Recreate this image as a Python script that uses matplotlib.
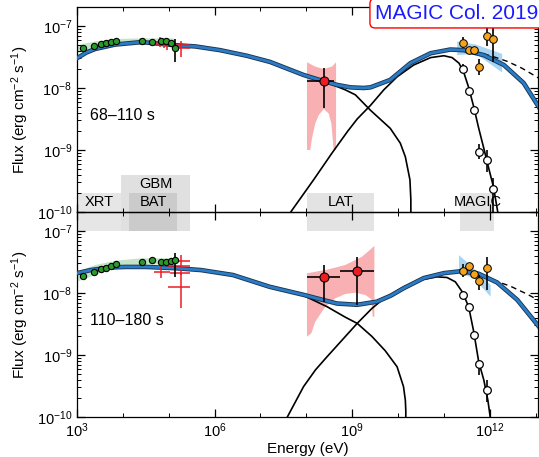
import numpy as np
import matplotlib
matplotlib.use("Agg")
import matplotlib.pyplot as plt
import matplotlib.patheffects as pe
from matplotlib.patches import Rectangle
from matplotlib.transforms import blended_transform_factory
from matplotlib.ticker import LogLocator, NullFormatter

plt.rcParams['font.family'] = ['Liberation Sans', 'DejaVu Sans']
plt.rcParams['mathtext.fontset'] = 'custom'
plt.rcParams['mathtext.rm'] = 'Liberation Sans'
plt.rcParams['mathtext.it'] = 'Liberation Sans:italic'
plt.rcParams['mathtext.bf'] = 'Liberation Sans:bold'

# all values are log10(E / eV) and log10(flux / erg cm-2 s-1)

# ---------------- 68-110 s ----------------
top_tot_logE = [3.0, 3.2, 3.4, 3.83, 4.41, 5.14, 5.58, 6.12, 6.7, 7.21, 7.94, 8.38, 8.67,
                8.96, 9.25, 9.40, 9.83, 10.27, 10.71, 11.14, 11.43, 11.87, 12.31, 12.74, 13.09]
top_tot_logF = [-7.52, -7.43, -7.37, -7.30, -7.26, -7.31, -7.33, -7.39, -7.48, -7.58, -7.79, -7.89, -7.95,
                -7.99, -8.00, -7.99, -7.87, -7.60, -7.44, -7.38, -7.39, -7.47, -7.63, -7.92, -8.33]
top_syn_logE = [3.0, 3.2, 3.4, 3.83, 4.41, 5.14, 5.58, 6.12, 6.7, 7.21, 7.94, 8.38, 8.85,
                9.07, 9.4, 9.83, 10.05, 10.16, 10.26, 10.28, 10.28]
top_syn_logF = [-7.52, -7.43, -7.37, -7.30, -7.26, -7.31, -7.33, -7.39, -7.48, -7.58, -7.79, -7.89, -8.03,
                -8.11, -8.36, -8.65, -8.89, -9.11, -9.48, -9.8, -10.5]
top_ssc_logE = [7.6, 7.67, 8.16, 8.56, 8.9, 9.11, 9.40, 9.69, 9.98, 10.34, 10.71, 11.0, 11.18, 11.33,
                11.43, 11.54, 11.65, 11.76, 11.87, 11.98, 12.08, 12.18]
top_ssc_logF = [-10.1, -9.99, -9.48, -9.05, -8.70, -8.50, -8.28, -8.03, -7.82, -7.63, -7.51, -7.48, -7.51, -7.60,
                -7.74, -7.99, -8.30, -8.65, -8.97, -9.30, -9.59, -10.02]
top_dash_logE = [11.87, 12.1, 12.38, 12.7, 13.09]
top_dash_logF = [-7.45, -7.50, -7.57, -7.68, -7.85]

top_xrt_logE = [3.12, 3.37, 3.52, 3.63, 3.74, 3.84, 4.41, 4.64, 4.83, 4.94, 5.05, 5.14]
top_xrt_logF = [-7.36, -7.32, -7.29, -7.27, -7.26, -7.25, -7.25, -7.26, -7.25, -7.25, -7.28, -7.36]
top_xrt_dlogF_lo = [0.02, 0.02, 0.02, 0.02, 0.02, 0.02, 0.02, 0.02, 0.02, 0.02, 0.03, 0.22]
top_xrt_dlogF_hi = [0.02, 0.02, 0.02, 0.02, 0.02, 0.02, 0.02, 0.02, 0.02, 0.02, 0.03, 0.15]
top_band_logE = [3.0, 3.39, 3.83, 4.41, 5.07, 5.14, 5.14, 5.07, 4.41, 3.83, 3.39, 3.0]
top_band_logF = [-7.31, -7.25, -7.21, -7.20, -7.20, -7.21, -7.33, -7.31, -7.30, -7.30, -7.36, -7.44]

top_bat_logE = [4.81, 4.96, 4.90, 5.27, 5.27]
top_bat_logE_lo = [4.67, 4.85, 4.73, 5.14, 5.14]
top_bat_logE_hi = [4.95, 5.08, 5.05, 5.47, 5.47]
top_bat_logF = [-7.26, -7.28, -7.31, -7.31, -7.36]
top_bat_logF_lo = [-7.34, -7.38, -7.35, -7.35, -7.50]
top_bat_logF_hi = [-7.18, -7.20, -7.27, -7.27, -7.25]

top_lat_logE = [8.378]
top_lat_logE_lo = [8.015]
top_lat_logE_hi = [8.597]
top_lat_logF = [-7.887]
top_lat_logF_lo = [-8.33]
top_lat_logF_hi = [-7.68]
top_lat_bow_logE = [8.015, 8.197, 8.378, 8.561, 8.649, 8.649, 8.597, 8.575, 8.546, 8.487, 8.378,
                    8.27, 8.197, 8.124, 8.087, 8.015]
top_lat_bow_logF = [-7.585, -7.656, -7.694, -7.656, -7.585, -9.0, -9.0, -8.81, -8.57, -8.41, -8.34,
                    -8.44, -8.57, -8.81, -9.0, -9.0]

top_magic_logE = [11.42, 11.54, 11.65, 11.77, 11.95, 12.08]
top_obs_logF = [-7.69, -8.05, -8.35, -9.03, -9.16, -9.63]
top_obs_logF_lo = [-7.76, -8.10, -8.40, -9.15, -9.35, -10.3]
top_obs_logF_hi = [-7.62, -8.00, -8.30, -8.90, -9.00, -9.45]
top_int_logF = [-7.27, -7.39, -7.38, -7.66, -7.16, -7.21]
top_int_logF_lo = [-7.36, -7.43, -7.42, -7.79, -7.33, -7.58]
top_int_logF_hi = [-7.17, -7.35, -7.34, -7.54, -6.98, -7.01]
top_magic_bow_logE = [11.29, 11.7, 12.27, 12.27, 11.7, 11.29]
top_magic_bow_logF = [-7.25, -7.30, -7.45, -7.75, -7.45, -7.47]

# ---------------- 110-180 s ----------------
bot_tot_logE = [3.0, 3.3, 3.7, 4.05, 4.5, 5.14, 5.7, 6.4, 7.2, 7.94, 8.3, 8.67, 9.11, 9.54, 9.85,
                10.13, 10.56, 11.0, 11.36, 11.76, 12.16, 12.6, 13.07]
bot_tot_logF = [-7.68, -7.63, -7.59, -7.58, -7.58, -7.60, -7.63, -7.71, -7.90, -8.03, -8.10, -8.17, -8.19,
                -8.14, -8.04, -7.92, -7.76, -7.68, -7.65, -7.69, -7.83, -8.11, -8.54]
bot_syn_logE = [3.0, 3.3, 3.7, 4.05, 4.5, 5.14, 5.7, 6.4, 7.2, 7.94, 8.45, 8.85, 9.11, 9.43, 9.72,
                9.98, 10.12, 10.16, 10.17, 10.17]
bot_syn_logF = [-7.68, -7.63, -7.59, -7.58, -7.58, -7.60, -7.63, -7.71, -7.90, -8.04, -8.22, -8.39, -8.49,
                -8.70, -8.93, -9.19, -9.51, -9.73, -9.9, -10.5]
bot_ssc_logE = [7.55, 7.94, 8.2, 8.45, 8.78, 9.11, 9.43, 9.69, 10.13, 10.49, 10.85, 11.07, 11.25,
                11.40, 11.54, 11.65, 11.76, 11.87, 11.96, 12.02]
bot_ssc_logF = [-10.05, -9.51, -9.24, -9.03, -8.76, -8.49, -8.25, -8.09, -7.90, -7.79, -7.74, -7.75, -7.82,
                -7.98, -8.22, -8.62, -9.11, -9.40, -9.73, -10.05]
bot_dash_logE = [11.87, 12.45, 12.82, 13.07]
bot_dash_logF = [-7.74, -7.89, -8.02, -8.12]

bot_xrt_logE = [3.14, 3.37, 3.52, 3.63, 3.74, 3.84, 4.41, 4.64, 4.83, 4.95, 5.05, 5.14]
bot_xrt_logF = [-7.72, -7.66, -7.62, -7.59, -7.56, -7.54, -7.50, -7.47, -7.50, -7.50, -7.48, -7.47]
bot_xrt_dlogF_lo = [0.02, 0.02, 0.02, 0.02, 0.02, 0.02, 0.02, 0.02, 0.02, 0.02, 0.03, 0.28]
bot_xrt_dlogF_hi = [0.02, 0.02, 0.02, 0.02, 0.02, 0.02, 0.02, 0.02, 0.02, 0.02, 0.03, 0.12]
bot_band_logE = [3.0, 3.39, 3.83, 4.41, 5.07, 5.14, 5.14, 5.07, 4.41, 3.83, 3.39, 3.0]
bot_band_logF = [-7.66, -7.55, -7.48, -7.44, -7.44, -7.44, -7.53, -7.53, -7.55, -7.60, -7.71, -7.82]

bot_bat_logE = [4.83, 5.14, 5.27, 5.27, 5.27]
bot_bat_logE_lo = [4.67, 4.99, 4.99, 5.02, 4.99]
bot_bat_logE_hi = [5.03, 5.47, 5.47, 5.47, 5.47]
bot_bat_logF = [-7.66, -7.49, -7.56, -7.67, -7.91]
bot_bat_logF_lo = [-7.76, -7.53, -7.60, -7.71, -8.25]
bot_bat_logF_hi = [-7.49, -7.45, -7.39, -7.63, -7.68]

bot_lat_logE = [8.378, 9.107]
bot_lat_logE_lo = [8.015, 8.742]
bot_lat_logE_hi = [8.742, 9.485]
bot_lat_logF = [-7.747, -7.645]
bot_lat_logF_lo = [-8.14, -8.19]
bot_lat_logF_hi = [-7.548, -7.425]
bot_lat_bow_logE = [8.015, 8.487, 8.852, 9.216, 9.485, 9.485, 9.448, 9.419, 9.288, 9.070, 8.852,
                    8.633, 8.415, 8.197, 8.109, 8.015]
bot_lat_bow_logF = [-7.683, -7.618, -7.548, -7.414, -7.242, -8.382, -8.382, -8.102, -8.032, -7.995, -8.016,
                    -8.086, -8.221, -8.462, -8.650, -8.705]

bot_magic_logE = [11.42, 11.54, 11.65, 11.77, 11.95]
bot_obs_logF = [-8.03, -8.22, -8.68, -9.15, -9.56]
bot_obs_logF_lo = [-8.10, -8.27, -8.72, -9.32, -9.75]
bot_obs_logF_hi = [-7.96, -8.17, -8.64, -9.08, -9.40]
bot_int_logF = [-7.64, -7.56, -7.70, -7.80, -7.59]
bot_int_logF_lo = [-7.75, -7.60, -7.74, -7.95, -7.95]
bot_int_logF_hi = [-7.53, -7.52, -7.66, -7.71, -7.42]
bot_magic_bow_logE = [11.33, 11.65, 12.02, 12.02, 11.65, 11.33]
bot_magic_bow_logF = [-7.39, -7.60, -7.87, -8.06, -7.76, -7.68]

# instruments
inst_names = ['XRT', 'GBM', 'BAT', 'LAT', 'MAGIC']
inst_logE_lo = [3.0, 3.96, 4.14, 8.02, 11.36]
inst_logE_hi = [3.96, 5.47, 5.18, 9.48, 12.10]


def p(a):
    return 10.0 ** np.asarray(a, dtype=float)


def errs(c, lo, hi):
    c, lo, hi = p(c), p(lo), p(hi)
    return [c - lo, hi - c]


blue = '#2b7cc6'
red = '#ec1c24'


def draw_panel(ax, tot_E, tot_F, syn_E, syn_F, ssc_E, ssc_F, dash_E, dash_F,
               xrt_E, xrt_F, xrt_lo, xrt_hi, band_E, band_F,
               bat_E, bat_Elo, bat_Ehi, bat_F, bat_Flo, bat_Fhi,
               lat_E, lat_Elo, lat_Ehi, lat_F, lat_Flo, lat_Fhi, lbow_E, lbow_F,
               mag_E, obs_F, obs_lo, obs_hi, int_F, int_lo, int_hi, mbow_E, mbow_F):
    ax.fill(p(band_E), p(band_F), color='#c4e4c8', lw=0, zorder=1)
    ax.fill(p(lbow_E), p(lbow_F), color='#f9b0b3', lw=0, zorder=1)
    ax.fill(p(mbow_E), p(mbow_F), color='#a9d5f5', lw=0, zorder=1)

    ax.plot(p(syn_E), p(syn_F), color='black', lw=1.2, zorder=2)
    ax.plot(p(ssc_E), p(ssc_F), color='black', lw=1.2, zorder=2)
    ax.plot(p(dash_E), p(dash_F), color='black', lw=1.0, ls=(0, (4, 3)), zorder=2)
    ax.plot(p(tot_E), p(tot_F), color=blue, lw=2.0, zorder=3,
            path_effects=[pe.Stroke(linewidth=3.3, foreground='#1b3552'), pe.Normal()])

    ax.errorbar(p(bat_E), p(bat_F), xerr=errs(bat_E, bat_Elo, bat_Ehi),
                yerr=errs(bat_F, bat_Flo, bat_Fhi), fmt='none', ecolor=red,
                elinewidth=1.1, zorder=4)

    xrt_xlo = np.array(xrt_E) - 0.06
    xrt_xhi = np.array(xrt_E) + 0.06
    ax.errorbar(p(xrt_E), p(xrt_F), xerr=errs(xrt_E, xrt_xlo, xrt_xhi),
                yerr=errs(xrt_F, np.array(xrt_F) - xrt_lo, np.array(xrt_F) + xrt_hi),
                fmt='o', ms=4.5, mfc='#2a9a2a', mec='black', mew=0.8,
                ecolor='black', elinewidth=1.2, zorder=5)

    ax.errorbar(p(lat_E), p(lat_F), xerr=errs(lat_E, lat_Elo, lat_Ehi),
                yerr=errs(lat_F, lat_Flo, lat_Fhi), fmt='o', ms=6.5,
                mfc=red, mec='black', mew=0.8, ecolor='black', elinewidth=1.2, zorder=5)

    ax.errorbar(p(mag_E), p(obs_F), yerr=errs(obs_F, obs_lo, obs_hi), fmt='o', ms=5.5,
                mfc='white', mec='black', mew=0.9, ecolor='black', elinewidth=1.2, zorder=5)
    ax.errorbar(p(mag_E), p(int_F), yerr=errs(int_F, int_lo, int_hi), fmt='o', ms=5.5,
                mfc='#f5a31c', mec='black', mew=0.7, ecolor='black', elinewidth=1.2, zorder=5)

    ax.set_xscale('log')
    ax.set_yscale('log')
    ax.set_xlim(1e3, 10 ** 13.05)
    ax.set_ylim(1e-10, 10 ** -6.694)
    ax.set_xticks([1e3, 1e6, 1e9, 1e12])
    ax.set_xticks([10.0 ** k for k in range(3, 14)], minor=True)
    ax.xaxis.set_minor_formatter(NullFormatter())
    ax.yaxis.set_major_locator(LogLocator(base=10, numticks=20))
    ax.yaxis.set_minor_locator(LogLocator(base=10, subs=np.arange(2, 10), numticks=20))
    ax.yaxis.set_minor_formatter(NullFormatter())
    ax.tick_params(which='both', direction='in', top=True, right=True, labelsize=10.5)
    ax.tick_params(which='major', length=6, width=0.9)
    ax.tick_params(which='minor', length=3, width=0.7)
    ax.set_ylabel('Flux (erg cm$^{-2}$ s$^{-1}$)', fontsize=11, labelpad=4)
    for s in ax.spines.values():
        s.set_linewidth(0.9)


fig = plt.figure(figsize=(5.39, 4.57), dpi=100)
ax_top = fig.add_axes([0.1429, 0.5361, 0.855, 0.4486], facecolor='none')
ax_bot = fig.add_axes([0.1429, 0.0875, 0.855, 0.4486], facecolor='none')

draw_panel(ax_top, top_tot_logE, top_tot_logF, top_syn_logE, top_syn_logF,
           top_ssc_logE, top_ssc_logF, top_dash_logE, top_dash_logF,
           top_xrt_logE, top_xrt_logF, top_xrt_dlogF_lo, top_xrt_dlogF_hi,
           top_band_logE, top_band_logF,
           top_bat_logE, top_bat_logE_lo, top_bat_logE_hi, top_bat_logF, top_bat_logF_lo, top_bat_logF_hi,
           top_lat_logE, top_lat_logE_lo, top_lat_logE_hi, top_lat_logF, top_lat_logF_lo, top_lat_logF_hi,
           top_lat_bow_logE, top_lat_bow_logF,
           top_magic_logE, top_obs_logF, top_obs_logF_lo, top_obs_logF_hi,
           top_int_logF, top_int_logF_lo, top_int_logF_hi, top_magic_bow_logE, top_magic_bow_logF)
draw_panel(ax_bot, bot_tot_logE, bot_tot_logF, bot_syn_logE, bot_syn_logF,
           bot_ssc_logE, bot_ssc_logF, bot_dash_logE, bot_dash_logF,
           bot_xrt_logE, bot_xrt_logF, bot_xrt_dlogF_lo, bot_xrt_dlogF_hi,
           bot_band_logE, bot_band_logF,
           bot_bat_logE, bot_bat_logE_lo, bot_bat_logE_hi, bot_bat_logF, bot_bat_logF_lo, bot_bat_logF_hi,
           bot_lat_logE, bot_lat_logE_lo, bot_lat_logE_hi, bot_lat_logF, bot_lat_logF_lo, bot_lat_logF_hi,
           bot_lat_bow_logE, bot_lat_bow_logF,
           bot_magic_logE, bot_obs_logF, bot_obs_logF_lo, bot_obs_logF_hi,
           bot_int_logF, bot_int_logF_lo, bot_int_logF_hi, bot_magic_bow_logE, bot_magic_bow_logF)

ax_top.tick_params(labelbottom=False)
ax_bot.set_xlabel('Energy (eV)', fontsize=11, labelpad=1)

ax_top.text(0.028, 0.47, '68–110 s', transform=ax_top.transAxes, fontsize=11.5, va='center')
ax_bot.text(0.028, 0.47, '110–180 s', transform=ax_bot.transAxes, fontsize=11.5, va='center')

# instrument energy ranges straddling the two panels
trans = blended_transform_factory(ax_top.transData, fig.transFigure)
band_colors = ['#e6e6e6', '#e0e0e0', '#cbcbcb', '#e3e3e3', '#e3e3e3']
band_tops = [0.5777, 0.617, 0.5777, 0.5777, 0.5777]
label_y = [0.558, 0.597, 0.558, 0.558, 0.558]
for name, lo, hi, col, ytop, ly in zip(inst_names, inst_logE_lo, inst_logE_hi,
                                        band_colors, band_tops, label_y):
    fig.add_artist(Rectangle((10 ** lo, 0.4945), 10 ** hi - 10 ** lo, ytop - 0.4945,
                             transform=trans, facecolor=col, edgecolor='none', zorder=-1))
    fig.text(10 ** ((lo + hi) / 2), ly, name, transform=trans, ha='center', va='center',
             fontsize=10.5, zorder=-0.5)

fig.text(0.696, 0.971, 'MAGIC Col. 2019', color='#1a1aff', fontsize=15, va='center',
         bbox=dict(boxstyle='round,pad=0.25', fc='white', ec='red', lw=1.0))

fig.savefig('out.png', dpi=100)
